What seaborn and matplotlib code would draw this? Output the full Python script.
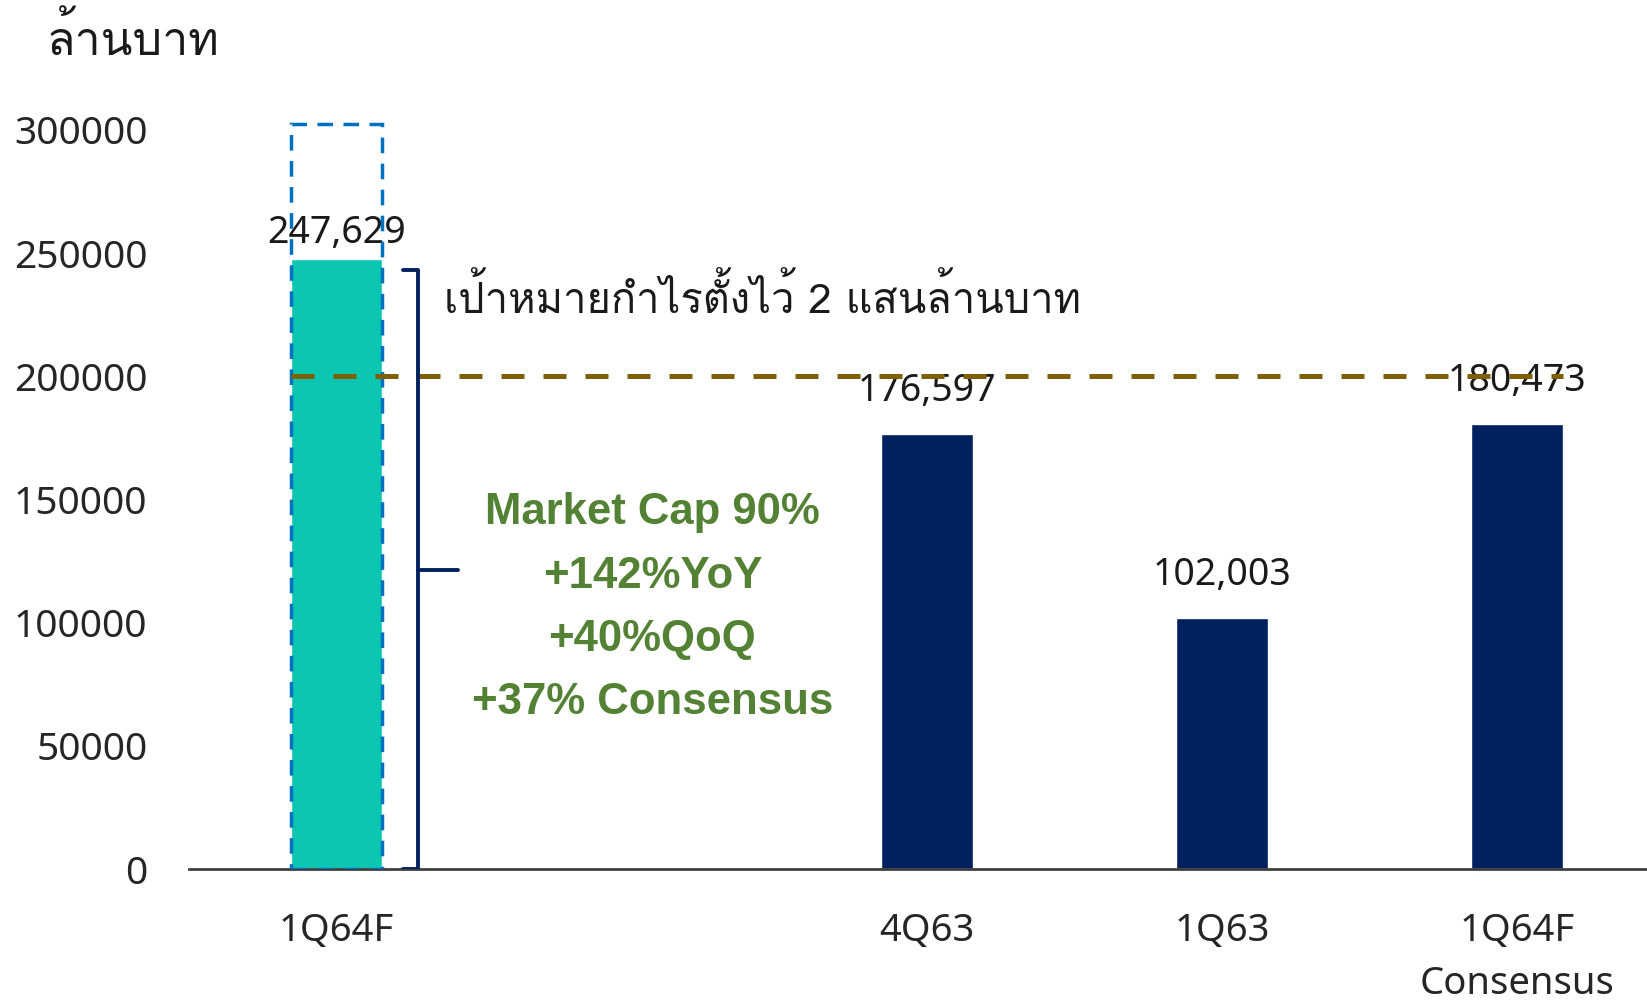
import matplotlib
matplotlib.use("Agg")
import matplotlib.pyplot as plt
import seaborn as sns
import pandas as pd
from matplotlib import font_manager
from matplotlib.ft2font import FT2Font
from matplotlib.patches import Rectangle

categories = ["1Q64F", " ", "4Q63", "1Q63", "1Q64F\nConsensus"]
profits = [247629, 0, 176597, 102003, 180473]
value_labels = ["247,629", "", "176,597", "102,003", "180,473"]
bar_colors = ["#0BC6B0", "#002060", "#002060", "#002060", "#002060"]
target = 200000
box_top = 302500
bracket_top = 243000
unit_label = "ล้านบาท"
target_text = "เป้าหมายกำไรตั้งไว้ 2 แสนล้านบาท"
green_text = "Market Cap 90%\n+142%YoY\n+40%QoQ\n+37% Consensus"

# find a font that can draw thai
thai_font = None
for f in font_manager.fontManager.ttflist:
    try:
        if 0x0E01 in FT2Font(f.fname).get_charmap():
            thai_font = f.name
            break
    except Exception:
        pass

sns.set_style("white")
fams = ["Noto Sans", "DejaVu Sans"]
if thai_font:
    fams = ["Noto Sans", thai_font, "DejaVu Sans"]
plt.rcParams["font.family"] = fams
thai_fams = ([thai_font] if thai_font else []) + ["Noto Sans", "DejaVu Sans"]

df = pd.DataFrame({"quarter": categories, "profit": profits})

fig = plt.figure(figsize=(16.47, 10.02), dpi=100)
ax = fig.add_axes([0.1148, 0.1327, 0.8852, 0.7623])

sns.barplot(data=df, x="quarter", y="profit", hue="quarter", order=categories,
            palette=bar_colors, width=0.31, legend=False, ax=ax, saturation=1)

ax.set_xlim(-0.5, 4.44)
ax.set_ylim(0, 310000)
ax.set_yticks(range(0, 300001, 50000))
ax.set_xlabel("")
ax.set_ylabel("")
ax.tick_params(axis="y", length=0, labelsize=28, pad=30)
ax.tick_params(axis="x", length=0, labelsize=27.5, pad=31)
for lab in ax.get_xticklabels():
    lab.set_linespacing(1.5)
    lab.set_verticalalignment("top")
for s in ["left", "right", "top"]:
    ax.spines[s].set_visible(False)
ax.spines["bottom"].set_color("#404040")
ax.spines["bottom"].set_linewidth(2)

bars = list(ax.patches)
# value labels
for i, p in enumerate(bars):
    if not value_labels[i]:
        continue
    off = 19 if i == 0 else 31
    ax.annotate(value_labels[i], (p.get_x() + p.get_width() / 2, p.get_height()),
                xytext=(0, off), textcoords="offset points",
                ha="center", va="center", fontsize=27, color="#1a1a1a", zorder=4)

# dashed blue box around first bar
b0 = bars[0]
ax.add_patch(Rectangle((b0.get_x(), 0), b0.get_width(), box_top, fill=False,
                       edgecolor="#0070C0", lw=2.5, linestyle=(0, (4.5, 3)), zorder=5))

# target line
ax.plot([b0.get_x(), bars[-1].get_x() + bars[-1].get_width()], [target, target],
        color="#7F6000", lw=3.6, linestyle=(0, (4.6, 3.8)), zorder=6)

# bracket
bx = 0.275
ax.plot([0.224, bx, bx, 0.224], [bracket_top, bracket_top, 0, 0],
        color="#002060", lw=2.8, zorder=6, solid_joinstyle="round")
ax.plot([bx, 0.41], [bracket_top / 2, bracket_top / 2], color="#002060", lw=2.8, zorder=6)

ax.text(0.365, 231400, target_text, ha="left", va="center", fontsize=30,
        family=thai_fams, color="#1a1a1a")
ax.text(1.07, 106000, green_text, ha="center", va="center", fontsize=31.5,
        fontweight="bold", family=["Liberation Sans", "DejaVu Sans"],
        color="#548235", linespacing=1.7)

fig.text(0.0285, 0.96, unit_label, ha="left", va="center", fontsize=33.5,
         family=thai_fams, color="#1a1a1a")

fig.savefig("out.png", dpi=100)
